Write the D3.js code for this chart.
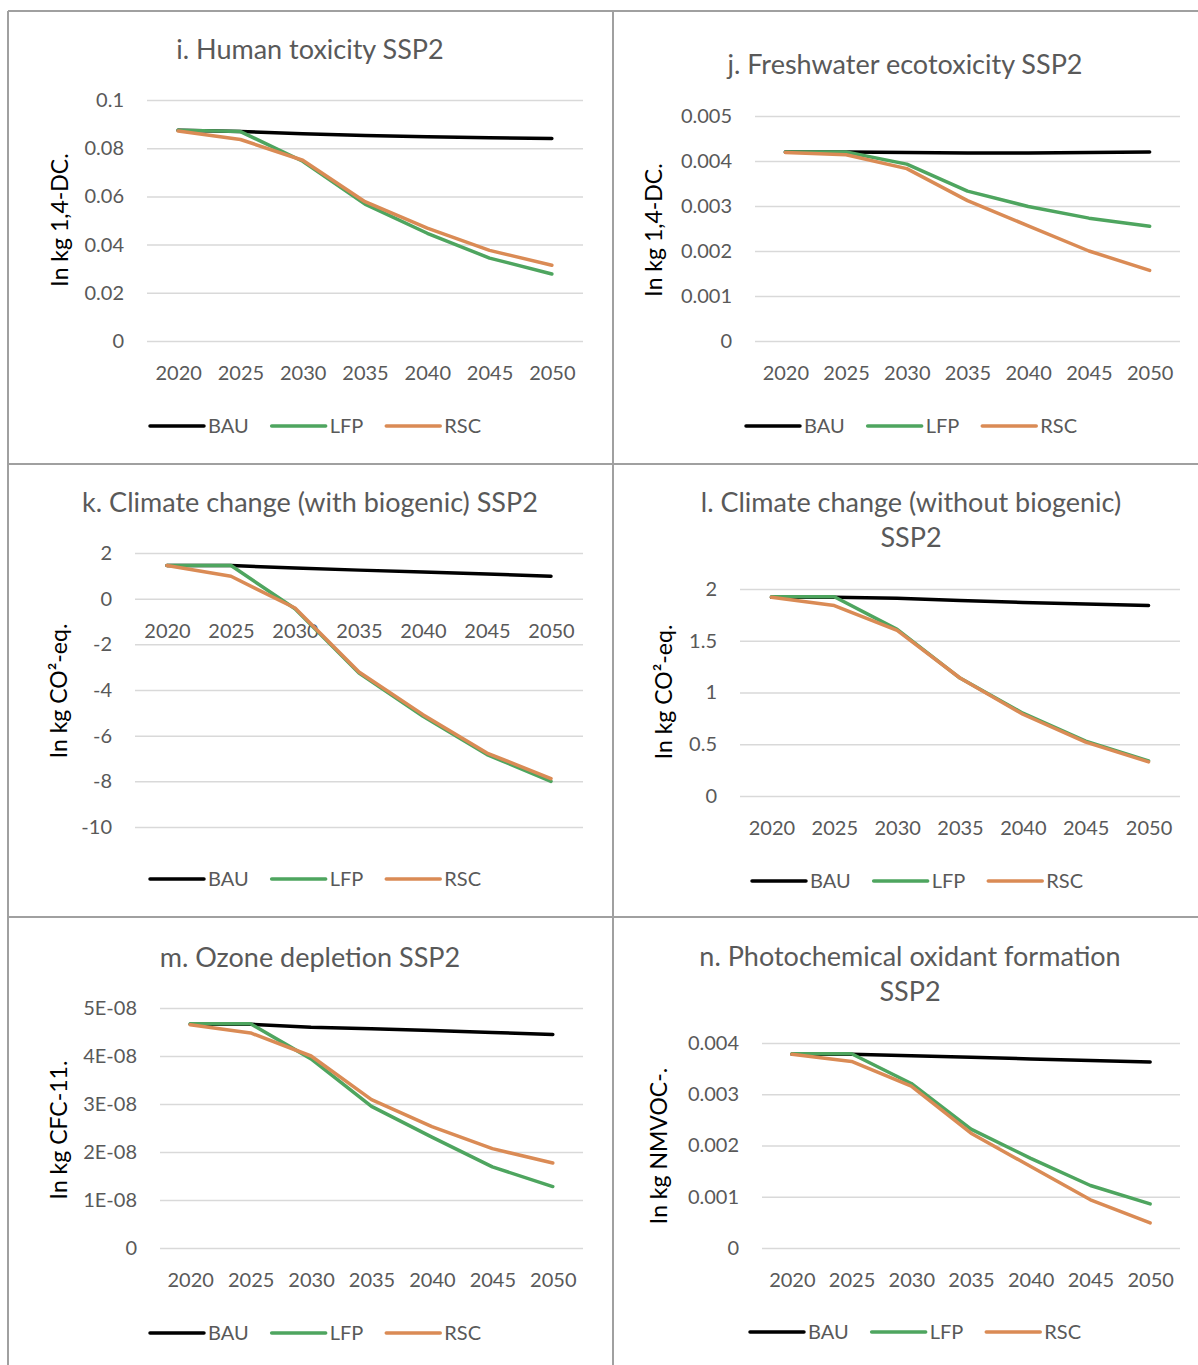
<!DOCTYPE html>
<html>
<head>
<meta charset="utf-8">
<script src="https://d3js.org/d3.v7.min.js"></script>
<style>
  body { margin: 0; background: #fff; }
  svg { display: block; }
</style>
</head>
<body>
<script>
// years on the x axis
var years = ["2020", "2025", "2030", "2035", "2040", "2045", "2050"];
var seriesNames = ["BAU", "LFP", "RSC"];

// i. Human toxicity
var humanBAU = [0.0874, 0.0869, 0.0860, 0.0853, 0.0847, 0.0843, 0.0840];
var humanLFP = [0.0875, 0.0869, 0.0746, 0.0568, 0.0447, 0.0344, 0.0278];
var humanRSC = [0.0871, 0.0836, 0.0750, 0.0578, 0.0468, 0.0376, 0.0314];
var humanTicks = [0, 0.02, 0.04, 0.06, 0.08, 0.1];

// j. Freshwater ecotoxicity
var freshBAU = [0.00420, 0.00420, 0.00419, 0.00418, 0.00418, 0.00419, 0.00420];
var freshLFP = [0.00420, 0.00420, 0.00393, 0.00333, 0.00299, 0.00273, 0.00255];
var freshRSC = [0.00419, 0.00414, 0.00383, 0.00312, 0.00256, 0.00200, 0.00157];
var freshTicks = [0, 0.001, 0.002, 0.003, 0.004, 0.005];

// k. Climate change with biogenic
var climBAU = [1.45, 1.45, 1.34, 1.25, 1.17, 1.08, 0.98];
var climLFP = [1.45, 1.45, -0.44, -3.26, -5.15, -6.83, -8.00];
var climRSC = [1.45, 0.98, -0.41, -3.21, -5.08, -6.76, -7.88];
var climTicks = [-10, -8, -6, -4, -2, 0, 2];

// l. Climate change without biogenic
var climNoBAU = [1.92, 1.92, 1.91, 1.89, 1.87, 1.855, 1.84];
var climNoLFP = [1.925, 1.925, 1.61, 1.14, 0.80, 0.53, 0.34];
var climNoRSC = [1.92, 1.84, 1.60, 1.14, 0.79, 0.52, 0.33];
var climNoTicks = [0, 0.5, 1, 1.5, 2];

// m. Ozone depletion
var ozoneBAU = [4.66e-8, 4.66e-8, 4.60e-8, 4.57e-8, 4.53e-8, 4.49e-8, 4.45e-8];
var ozoneLFP = [4.67e-8, 4.67e-8, 3.94e-8, 2.95e-8, 2.31e-8, 1.69e-8, 1.28e-8];
var ozoneRSC = [4.65e-8, 4.48e-8, 4.00e-8, 3.09e-8, 2.53e-8, 2.07e-8, 1.77e-8];
var ozoneTicks = [0, 1e-8, 2e-8, 3e-8, 4e-8, 5e-8];

// n. Photochemical oxidant formation
var photoBAU = [0.00378, 0.00378, 0.00375, 0.00372, 0.00369, 0.00366, 0.00363];
var photoLFP = [0.00379, 0.00379, 0.00321, 0.00232, 0.00175, 0.00122, 0.00086];
var photoRSC = [0.00378, 0.00364, 0.00316, 0.00224, 0.00159, 0.00094, 0.00049];
var photoTicks = [0, 0.001, 0.002, 0.003, 0.004];

var colors = { BAU: "#000000", LFP: "#4ea55f", RSC: "#da8b55" };
var font = "Lato, 'Open Sans', sans-serif";

function plainFmt(d) { return String(+d.toFixed(6)); }
function sciFmt(d) {
    if (d === 0) return "0";
    var e = Math.floor(Math.log10(Math.abs(d)) + 1e-9);
    var m = Math.round(d / Math.pow(10, e));
    var s = e < 0 ? "-" : "+";
    var ea = Math.abs(e);
    return m + "E" + s + (ea < 10 ? "0" + ea : ea);
}

// panel layout (positions only)
var panels = [
    { title: ["i. Human toxicity SSP2"], titleY: 59, cx: 310,
      yLabel: "In kg 1,4-DC.", yLabelX: 68, yLabelY: 220,
      left: 147, right: 583, top: 100, bottom: 341,
      ticks: humanTicks, fmt: plainFmt, data: [humanBAU, humanLFP, humanRSC],
      legendX: 150, legendY: 426 },
    { title: ["j. Freshwater ecotoxicity SSP2"], titleY: 74, cx: 905,
      yLabel: "In kg 1,4-DC.", yLabelX: 662, yLabelY: 230,
      left: 755, right: 1180, top: 116, bottom: 341,
      ticks: freshTicks, fmt: plainFmt, data: [freshBAU, freshLFP, freshRSC],
      legendX: 746, legendY: 426 },
    { title: ["k. Climate change (with biogenic) SSP2"], titleY: 512, cx: 310,
      yLabel: "In kg CO\u00b2-eq.", yLabelX: 67, yLabelY: 691,
      left: 135, right: 583, top: 553, bottom: 827,
      ticks: climTicks, fmt: plainFmt, data: [climBAU, climLFP, climRSC],
      legendX: 150, legendY: 879 },
    { title: ["l. Climate change (without biogenic)", "SSP2"], titleY: 512, cx: 911,
      yLabel: "In kg CO\u00b2-eq.", yLabelX: 672, yLabelY: 692,
      left: 740, right: 1180, top: 589, bottom: 796,
      ticks: climNoTicks, fmt: plainFmt, data: [climNoBAU, climNoLFP, climNoRSC],
      legendX: 752, legendY: 881 },
    { title: ["m. Ozone depletion SSP2"], titleY: 967, cx: 310,
      yLabel: "In kg CFC-11.", yLabelX: 67, yLabelY: 1130,
      left: 160, right: 583, top: 1008, bottom: 1248,
      ticks: ozoneTicks, fmt: sciFmt, data: [ozoneBAU, ozoneLFP, ozoneRSC],
      legendX: 150, legendY: 1333 },
    { title: ["n. Photochemical oxidant formation", "SSP2"], titleY: 966, cx: 910,
      yLabel: "In kg NMVOC-.", yLabelX: 667, yLabelY: 1146,
      left: 762, right: 1180, top: 1043, bottom: 1248,
      ticks: photoTicks, fmt: plainFmt, data: [photoBAU, photoLFP, photoRSC],
      legendX: 750, legendY: 1332 }
];

var svg = d3.select("body").append("svg")
    .attr("width", 1198)
    .attr("height", 1365);

svg.append("rect").attr("width", 1198).attr("height", 1365).attr("fill", "#fff");

panels.forEach(function(p) {
    var ext = d3.extent(p.ticks);
    var x = d3.scalePoint().domain(years).range([p.left, p.right]).padding(0.5);
    var y = d3.scaleLinear().domain(ext).range([p.bottom, p.top]);
    var g = svg.append("g");

    // gridlines
    g.append("g")
        .attr("transform", "translate(" + p.left + ",0)")
        .call(d3.axisLeft(y).tickValues(p.ticks).tickSize(-(p.right - p.left)).tickFormat(""))
        .call(function(a) {
            a.select(".domain").remove();
            a.selectAll("line").attr("stroke", "#d9d9d9").attr("stroke-width", 1.5);
        });

    // y tick labels
    g.append("g")
        .attr("transform", "translate(" + p.left + ",0)")
        .call(d3.axisLeft(y).tickValues(p.ticks).tickSize(0).tickPadding(23).tickFormat(p.fmt))
        .call(function(a) {
            a.select(".domain").remove();
            a.attr("font-family", font).attr("font-size", 20);
            a.selectAll("text").attr("fill", "#595959");
        });

    // x tick labels sit on the zero line
    g.append("g")
        .attr("transform", "translate(0," + y(0) + ")")
        .call(d3.axisBottom(x).tickSize(0).tickPadding(25))
        .call(function(a) {
            a.select(".domain").remove();
            a.attr("font-family", font).attr("font-size", 20);
            a.selectAll("text").attr("fill", "#595959");
        });

    // lines
    var line = d3.line()
        .x(function(d, i) { return x(years[i]); })
        .y(function(d) { return y(d); });
    p.data.forEach(function(vals, k) {
        g.append("path")
            .datum(vals)
            .attr("d", line)
            .attr("fill", "none")
            .attr("stroke", colors[seriesNames[k]])
            .attr("stroke-width", 3.5)
            .attr("stroke-linejoin", "round")
            .attr("stroke-linecap", "round");
    });

    // title
    p.title.forEach(function(t, i) {
        g.append("text")
            .attr("x", p.cx)
            .attr("y", p.titleY + i * 35)
            .attr("text-anchor", "middle")
            .attr("font-family", font)
            .attr("font-size", 27)
            .attr("fill", "#595959")
            .text(t);
    });

    // y axis label
    g.append("text")
        .attr("transform", "translate(" + p.yLabelX + "," + p.yLabelY + ") rotate(-90)")
        .attr("text-anchor", "middle")
        .attr("font-family", font)
        .attr("font-size", 23)
        .attr("fill", "#000")
        .text(p.yLabel);

    // legend
    var lx = p.legendX;
    seriesNames.forEach(function(name) {
        g.append("line")
            .attr("x1", lx).attr("x2", lx + 54)
            .attr("y1", p.legendY).attr("y2", p.legendY)
            .attr("stroke", colors[name])
            .attr("stroke-width", 3.5)
            .attr("stroke-linecap", "round");
        var t = g.append("text")
            .attr("x", lx + 58)
            .attr("y", p.legendY)
            .attr("dy", "0.36em")
            .attr("font-family", font)
            .attr("font-size", 20)
            .attr("fill", "#595959")
            .text(name);
        lx += 58 + t.node().getComputedTextLength() + 23;
    });
});

// panel borders
var borderColor = "#a0a0a0";
[[8, 11, 1198, 11], [8, 464, 1198, 464], [8, 917, 1198, 917],
 [8, 11, 8, 1365], [613, 11, 613, 1365]].forEach(function(s) {
    svg.append("line")
        .attr("x1", s[0]).attr("y1", s[1]).attr("x2", s[2]).attr("y2", s[3])
        .attr("stroke", borderColor)
        .attr("stroke-width", 2);
});
</script>
</body>
</html>
